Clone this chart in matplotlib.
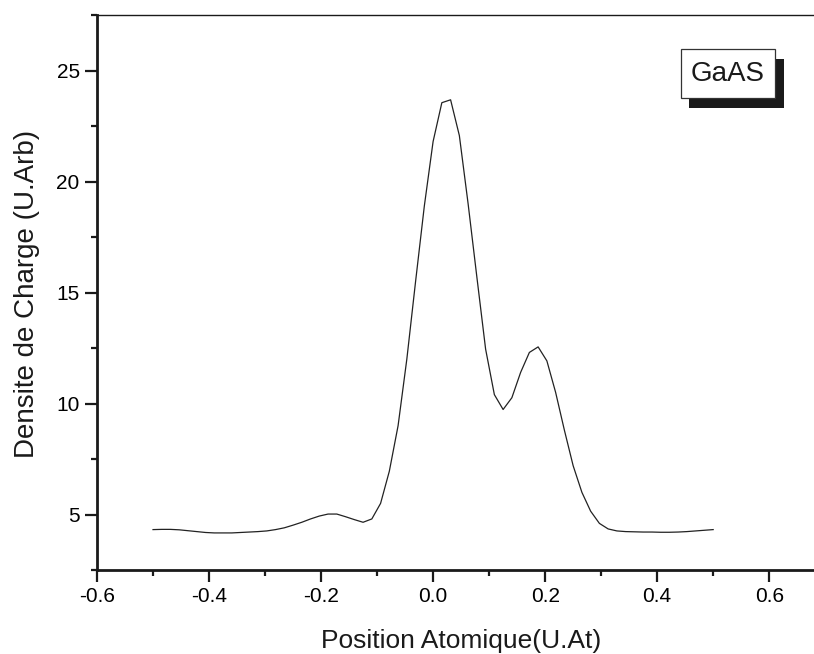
import numpy as np
import matplotlib
matplotlib.use("Agg")
import matplotlib.pyplot as plt
from matplotlib.patches import Rectangle
from matplotlib.ticker import MultipleLocator

# Data: 65 samples from -0.5 to 0.5 (step 1/64)
x_start, x_stop, n_pts = -0.5, 0.5, 65
density = [4.32, 4.33, 4.33, 4.31, 4.27, 4.23, 4.19, 4.17, 4.17, 4.17,
           4.19, 4.21, 4.23, 4.26, 4.32, 4.40, 4.52, 4.65, 4.80, 4.93,
           5.02, 5.02, 4.90, 4.77, 4.65, 4.80, 5.50, 6.95, 9.00, 12.0,
           15.5, 18.9, 21.8, 23.55, 23.68, 22.07, 19.0, 15.7, 12.45, 10.4,
           9.73, 10.26, 11.4, 12.3, 12.55, 11.92, 10.5, 8.8, 7.2, 6.0,
           5.15, 4.6, 4.35, 4.26, 4.23, 4.22, 4.21, 4.21, 4.20, 4.20,
           4.21, 4.23, 4.26, 4.29, 4.32]
position = np.linspace(x_start, x_stop, n_pts)

x_ticks = [-0.6, -0.4, -0.2, 0.0, 0.2, 0.4, 0.6]
x_ticklabels = ["-0.6", "-0.4", "-0.2", "0.0", "0.2", "0.4", "0.6"]
y_ticks = [5, 10, 15, 20, 25]
y_ticklabels = ["5", "10", "15", "20", "25"]
label_text = "GaAS"
x_label = "Position Atomique(U.At)"
y_label = "Densite de Charge (U.Arb)"

plt.rcParams['font.family'] = ['Liberation Sans', 'DejaVu Sans']

W, H = 814, 654
fig = plt.figure(figsize=(W / 100, H / 100), dpi=100)
ax = fig.add_axes([97 / W, (H - 570) / H, (W - 97) / W, (570 - 15) / H])

ax.plot(position, density, color="#222222", lw=0.9)

ax.set_xlim(-0.6, 0.68)
ax.set_ylim(2.5, 27.5)
ax.set_xticks(x_ticks)
ax.set_xticklabels(x_ticklabels)
ax.set_yticks(y_ticks)
ax.set_yticklabels(y_ticklabels)
ax.xaxis.set_minor_locator(MultipleLocator(0.1))
ax.yaxis.set_minor_locator(MultipleLocator(2.5))

ax.spines['right'].set_visible(False)
ax.spines['left'].set_linewidth(2.0)
ax.spines['bottom'].set_linewidth(2.0)
ax.spines['top'].set_linewidth(1.0)
for s in ax.spines.values():
    s.set_color("#1a1a1a")

ax.tick_params(which='major', direction='out', length=8.5, width=1.6,
               labelsize=15, color="#1a1a1a", pad=4)
ax.tick_params(which='minor', direction='out', length=4.5, width=1.6,
               color="#1a1a1a")
ax.tick_params(top=False, right=False, which='both')

fig.text(461 / W, (H - 648) / H, x_label, ha="center", va="baseline",
         fontsize=19, color="#1a1a1a")
fig.text(27 / W, (H - 294) / H, y_label, ha="center", va="center",
         rotation=90, fontsize=20, color="#1a1a1a")

# Label box with drop shadow (figure pixel coords)
bx0, bx1, by_top, by_bot = 680.7, 775.0, 49.3, 98.3
dx, dy = 8.5, 9.4
shadow = Rectangle(((bx0 + dx) / W, (H - by_bot - dy) / H),
                   (bx1 - bx0) / W, (by_bot - by_top) / H,
                   transform=fig.transFigure, facecolor="#1a1a1a",
                   edgecolor="#1a1a1a", lw=0, zorder=5)
box = Rectangle((bx0 / W, (H - by_bot) / H),
                (bx1 - bx0) / W, (by_bot - by_top) / H,
                transform=fig.transFigure, facecolor="white",
                edgecolor="#333333", lw=0.9, zorder=6)
fig.patches.extend([shadow, box])
fig.text((bx0 + bx1) / 2 / W, (H - (by_top + by_bot) / 2) / H, label_text,
         ha="center", va="center", fontsize=20, color="#1a1a1a", zorder=7)

fig.savefig("out.png", dpi=100)
